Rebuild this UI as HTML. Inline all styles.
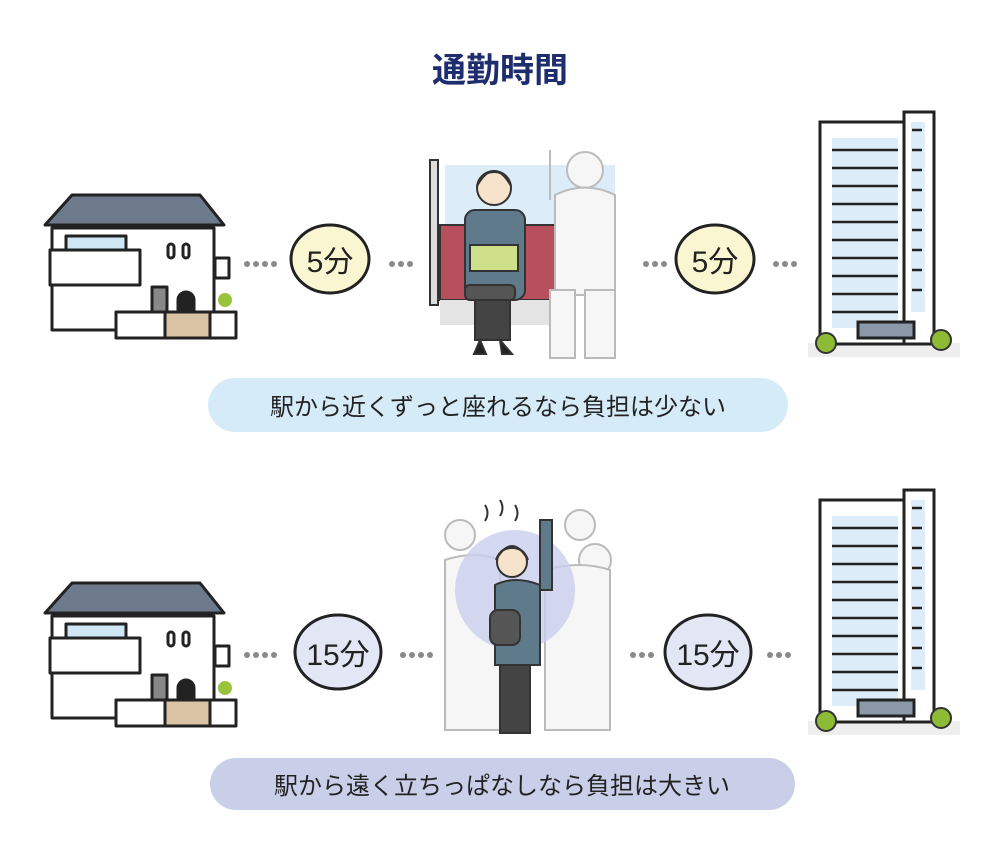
<!DOCTYPE html>
<html><head><meta charset="utf-8"><style>
body{margin:0;background:#fff;width:1000px;height:850px;overflow:hidden}
svg{display:block}
text{font-family:"Liberation Sans","Noto Sans CJK JP",sans-serif}
</style></head><body>
<svg width="1000" height="850" viewBox="0 0 1000 850" xmlns="http://www.w3.org/2000/svg">
<defs>
<g id="house" stroke="#222" stroke-width="3" stroke-linejoin="round">
 <rect x="52" y="228" width="162" height="102" fill="#fff"/>
 <path d="M45 225 L72 195 L200 195 L224 225 Z" fill="#6c7a8c"/>
 <rect x="66" y="236" width="60" height="14" fill="#cfe6f5"/>
 <rect x="50" y="250" width="90" height="35" fill="#fff"/>
 <rect x="168" y="244" width="6" height="14" rx="3" fill="#fff"/>
 <rect x="183" y="244" width="6" height="14" rx="3" fill="#fff"/>
 <rect x="215" y="258" width="14" height="20" fill="#fff"/>
 <rect x="152" y="287" width="15" height="25" fill="#888"/>
 <rect x="116" y="312" width="120" height="26" fill="#fff"/>
 <rect x="165" y="312" width="45" height="26" fill="#d8c3a5"/>
 <path d="M178 300 a8 8 0 0 1 16 0 v10 h-16 Z" fill="#222"/>
 <circle cx="225" cy="300" r="7" fill="#9ac33c" stroke="none"/>
</g>
<g id="bldg" stroke="#222" stroke-width="3">
 <rect x="808" y="343" width="152" height="14" fill="#eee" stroke="none"/>
 <rect x="820" y="122" width="88" height="222" fill="#fff"/>
 <rect x="832" y="138" width="66" height="190" fill="#dcecf8" stroke="none"/>
 <rect x="904" y="112" width="30" height="232" fill="#fff"/>
 <rect x="911" y="122" width="14" height="190" fill="#dcecf8" stroke="none"/>
 <g stroke-width="2.5">
  <path d="M832 150h66M832 168h66M832 186h66M832 204h66M832 222h66M832 240h66M832 258h66M832 276h66M832 294h66M832 312h66"/>
  <path d="M912 130h10M912 150h10M912 170h10M912 190h10M912 210h10M912 230h10M912 250h10M912 270h10M912 290h10"/>
 </g>
 <rect x="858" y="322" width="56" height="16" fill="#8a98a8"/>
 <circle cx="826" cy="343" r="10" fill="#8dbb35" stroke="#333" stroke-width="2"/>
 <circle cx="941" cy="340" r="10" fill="#8dbb35" stroke="#333" stroke-width="2"/>
</g>
</defs>

<text x="500" y="82" text-anchor="middle" font-size="34" font-weight="bold" fill="#1e2d6e">通勤時間</text>

<!-- Row 1 -->
<use href="#house"/>
<use href="#bldg"/>
<g fill="#8a8a8a">
 <circle cx="247" cy="264" r="3"/><circle cx="256" cy="264" r="3"/><circle cx="265" cy="264" r="3"/><circle cx="274" cy="264" r="3"/>
 <circle cx="392" cy="264" r="3"/><circle cx="401" cy="264" r="3"/><circle cx="410" cy="264" r="3"/>
 <circle cx="646" cy="264" r="3"/><circle cx="655" cy="264" r="3"/><circle cx="664" cy="264" r="3"/>
 <circle cx="776" cy="264" r="3"/><circle cx="785" cy="264" r="3"/><circle cx="794" cy="264" r="3"/>
</g>
<ellipse cx="330" cy="259" rx="39" ry="34" fill="#fbf6d2" stroke="#222" stroke-width="3"/>
<text x="330" y="272" text-anchor="middle" font-size="30" fill="#222">5分</text>
<ellipse cx="715" cy="259" rx="39" ry="34" fill="#fbf6d2" stroke="#222" stroke-width="3"/>
<text x="715" y="272" text-anchor="middle" font-size="30" fill="#222">5分</text>
<!-- train seated -->
<g stroke="#333" stroke-width="2">
 <rect x="430" y="160" width="8" height="145" fill="#ddd"/>
 <rect x="445" y="165" width="170" height="60" fill="#dcecf8" stroke="none"/>
 <rect x="440" y="225" width="120" height="75" fill="#b84f5c"/>
 <rect x="440" y="300" width="120" height="25" fill="#e4e4e4" stroke="none"/>
 <rect x="465" y="210" width="60" height="90" rx="10" fill="#5f7a8a"/>
 <circle cx="494" cy="188" r="17" fill="#f7e2cc"/>
 <path d="M477 186 q17 -30 34 0 q-5 -14 -17 -14 q-12 0 -17 14z" fill="#7a5a3e"/>
 <rect x="470" y="245" width="48" height="26" fill="#cfe08a"/>
 <rect x="475" y="290" width="35" height="50" fill="#444"/>
 <rect x="465" y="285" width="50" height="15" rx="5" fill="#555"/>
 <path d="M480 340 l-6 14 h12z M500 340 l2 14 h10z" fill="#222"/>
</g>
<g fill="#f6f6f6" stroke="#bbb" stroke-width="2">
 <circle cx="585" cy="170" r="18"/>
 <path d="M555 195 q30 -15 60 0 v100 h-60 z"/>
 <rect x="550" y="290" width="25" height="68"/>
 <rect x="585" y="290" width="30" height="68"/>
 <path d="M550 150 v50"/>
</g>

<rect x="208" y="378" width="580" height="54" rx="27" fill="#d6ebf8"/>
<text x="498" y="415" text-anchor="middle" font-size="24" fill="#222">駅から近くずっと座れるなら負担は少ない</text>

<!-- Row 2 -->
<use href="#house" transform="translate(0,388)"/>
<use href="#bldg" transform="translate(0,378)"/>
<g fill="#8a8a8a">
 <circle cx="247" cy="655" r="3"/><circle cx="256" cy="655" r="3"/><circle cx="265" cy="655" r="3"/><circle cx="274" cy="655" r="3"/>
 <circle cx="403" cy="655" r="3"/><circle cx="412" cy="655" r="3"/><circle cx="421" cy="655" r="3"/><circle cx="430" cy="655" r="3"/>
 <circle cx="633" cy="655" r="3"/><circle cx="642" cy="655" r="3"/><circle cx="651" cy="655" r="3"/>
 <circle cx="770" cy="655" r="3"/><circle cx="779" cy="655" r="3"/><circle cx="788" cy="655" r="3"/>
</g>
<ellipse cx="338" cy="652" rx="43" ry="37" fill="#e3e7f5" stroke="#222" stroke-width="3"/>
<text x="338" y="665" text-anchor="middle" font-size="30" fill="#222">15分</text>
<ellipse cx="708" cy="652" rx="43" ry="37" fill="#e3e7f5" stroke="#222" stroke-width="3"/>
<text x="708" y="665" text-anchor="middle" font-size="30" fill="#222">15分</text>
<!-- crowded train -->
<g fill="#f6f6f6" stroke="#bbb" stroke-width="2">
 <circle cx="460" cy="535" r="15"/><circle cx="580" cy="525" r="15"/><circle cx="595" cy="560" r="16"/>
 <path d="M445 560 q30 -10 55 0 v170 h-55z"/>
 <path d="M545 570 q35 -10 65 0 v160 h-65z"/>
</g>
<circle cx="515" cy="590" r="60" fill="#c9d0ee" opacity="0.8"/>
<g stroke="#333" stroke-width="2">
 <path d="M540 520 v70 h12 v-70z" fill="#5f7a8a"/>
 <path d="M495 585 q20 -10 45 0 v80 h-45z" fill="#5f7a8a"/>
 <circle cx="512" cy="562" r="15" fill="#f7e2cc"/>
 <path d="M496 560 q16 -28 32 0 q-4 -12 -16 -12 q-12 0 -16 12z" fill="#7a5a3e"/>
 <rect x="490" y="610" width="30" height="35" rx="8" fill="#555"/>
 <rect x="500" y="665" width="30" height="68" fill="#444"/>
</g>
<path d="M485 505 q5 8 0 16 M500 500 q5 8 0 16 M515 505 q5 8 0 16" stroke="#333" stroke-width="2" fill="none"/>

<rect x="210" y="758" width="585" height="52" rx="26" fill="#c9cfe9"/>
<text x="502" y="794" text-anchor="middle" font-size="24" fill="#222">駅から遠く立ちっぱなしなら負担は大きい</text>
</svg>
</body></html>
